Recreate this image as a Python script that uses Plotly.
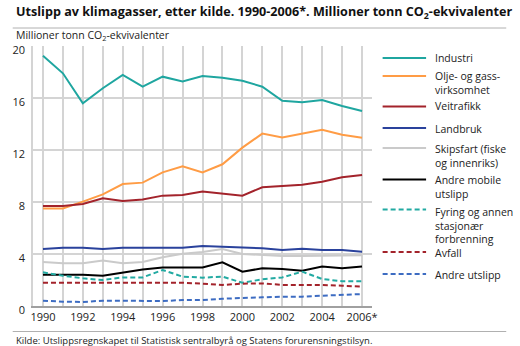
import plotly.graph_objects as go

years = list(range(1990, 2007))
label_years = [1990, 1992, 1994, 1996, 1998, 2000, 2002, 2004, 2006]
tick_text = ["1990", "1992", "1994", "1996", "1998", "2000", "2002", "2004", "2006*"]

industri = [19.25, 17.9, 15.6, 16.75, 17.77, 16.87, 17.64, 17.28, 17.69, 17.56, 17.33, 16.87, 15.79, 15.67, 15.85, 15.38, 15.0]
olje_gass = [7.5, 7.5, 8.03, 8.59, 9.38, 9.49, 10.28, 10.75, 10.28, 10.9, 12.18, 13.26, 12.97, 13.26, 13.56, 13.18, 12.95]
veitrafikk = [7.69, 7.69, 7.85, 8.28, 8.08, 8.2, 8.49, 8.54, 8.8, 8.67, 8.49, 9.13, 9.23, 9.33, 9.56, 9.9, 10.08]
landbruk = [4.38, 4.49, 4.49, 4.38, 4.49, 4.49, 4.49, 4.49, 4.62, 4.56, 4.51, 4.44, 4.31, 4.4, 4.31, 4.31, 4.18]
skipsfart = [3.38, 3.28, 3.28, 3.5, 3.28, 3.38, 3.75, 4.02, 4.15, 4.38, 4.0, 3.9, 3.85, 3.85, 3.85, 3.85, 3.9]
andre_mobile = [2.41, 2.41, 2.41, 2.33, 2.59, 2.8, 2.97, 2.97, 2.97, 3.36, 2.64, 2.9, 2.85, 2.72, 3.03, 2.9, 3.03]
fyring = [2.59, 2.33, 2.13, 2.0, 2.2, 2.2, 2.77, 2.26, 2.18, 2.26, 1.79, 2.05, 2.2, 2.64, 2.08, 1.9, 1.9]
avfall = [1.79, 1.79, 1.79, 1.79, 1.79, 1.79, 1.79, 1.79, 1.72, 1.62, 1.72, 1.74, 1.62, 1.62, 1.62, 1.56, 1.49]
andre_utslipp = [0.41, 0.33, 0.31, 0.41, 0.41, 0.41, 0.38, 0.46, 0.46, 0.56, 0.64, 0.67, 0.72, 0.72, 0.79, 0.85, 0.92]

series = [
    (["Industri"], industri, "#1fa6a0", "solid"),
    (["Olje- og gass-", "virksomhet"], olje_gass, "#ff9c45", "solid"),
    (["Veitrafikk"], veitrafikk, "#a3232b", "solid"),
    (["Landbruk"], landbruk, "#2a429c", "solid"),
    (["Skipsfart (fiske", "og innenriks)"], skipsfart, "#cacaca", "solid"),
    (["Andre mobile", "utslipp"], andre_mobile, "#000000", "solid"),
    (["Fyring og annen", "stasjonær", "forbrenning"], fyring, "#22aaa2", "5px,3px"),
    (["Avfall"], avfall, "#a3232b", "5px,3px"),
    (["Andre utslipp"], andre_utslipp, "#3d6cc2", "5px,3px"),
]

# hand-made legend rows (pixel y of the key line and of the first text line)
legend_rows = [58, 76, 106.5, 128, 148, 179.5, 209.5, 252, 274]
legend_text_first = [58, 76, 106, 128.5, 149, 180, 211.5, 253, 274.5]
LEG_FONT = 10.5
LINE_SP = 1.3 * LEG_FONT

W, H = 520, 346
ML, MR, MT, MB = 21, 148, 46, 40
PW, PH = W - ML - MR, H - MT - MB

def px_x(px):
    return (px - ML) / PW

def px_y(py):
    return (H - MB - py) / PH

FONT = "Open Sans"
TXT = "#222222"
GRID = "#d4d4d4"

fig = go.Figure()
for names, vals, color, dash in series:
    fig.add_trace(go.Scatter(x=years, y=vals, mode="lines", name=" ".join(names),
                             line=dict(color=color, width=2, dash=dash), showlegend=False))

shapes = []
annotations = []
for (names, vals, color, dash), ly, ty in zip(series, legend_rows, legend_text_first):
    shapes.append(dict(type="line", xref="paper", yref="paper",
                       x0=px_x(383), x1=px_x(428), y0=px_y(ly), y1=px_y(ly),
                       line=dict(color=color, width=2, dash=dash)))
    center = ty + (len(names) - 1) * LINE_SP / 2
    annotations.append(dict(text="<br>".join(names), xref="paper", yref="paper",
                            x=px_x(435), y=px_y(center), align="left",
                            xanchor="left", yanchor="middle", showarrow=False,
                            font=dict(family=FONT, size=LEG_FONT, color=TXT)))

# title, separator lines, axis title, source
annotations.append(dict(text="<b>Utslipp av klimagasser, etter kilde. 1990-2006*. Millioner tonn CO<sub>2</sub>-ekvivalenter</b>",
                        xref="paper", yref="paper", x=px_x(1), y=px_y(12.5), xanchor="left", yanchor="middle",
                        showarrow=False, font=dict(family=FONT, size=12.6, color="#111111")))
annotations.append(dict(text="Millioner tonn CO<sub>2</sub>-ekvivalenter",
                        xref="paper", yref="paper", x=px_x(1), y=px_y(35.5), xanchor="left", yanchor="middle",
                        showarrow=False, font=dict(family=FONT, size=10.5, color=TXT)))
annotations.append(dict(text="Kilde: Utslippsregnskapet til Statistisk sentralbyrå og Statens forurensningstilsyn.",
                        xref="paper", yref="paper", x=px_x(1), y=px_y(340), xanchor="left", yanchor="middle",
                        showarrow=False, font=dict(family=FONT, size=9.5, color=TXT)))
shapes.append(dict(type="line", xref="paper", yref="paper", x0=px_x(0), x1=px_x(511),
                   y0=px_y(28), y1=px_y(28), line=dict(color="#b0b0b0", width=1)))
shapes.append(dict(type="line", xref="paper", yref="paper", x0=px_x(0), x1=px_x(511),
                   y0=px_y(331.5), y1=px_y(331.5), line=dict(color="#b0b0b0", width=1)))

fig.update_layout(
    width=W, height=H,
    margin=dict(l=ML, r=MR, t=MT, b=MB, pad=0),
    paper_bgcolor="white", plot_bgcolor="white",
    font=dict(family=FONT, size=11, color=TXT),
    shapes=shapes, annotations=annotations,
    xaxis=dict(range=[1989.5, 2006.5], tickvals=label_years, ticktext=tick_text,
               showgrid=True, gridcolor=GRID, gridwidth=1.5,
               minor=dict(tick0=1990, dtick=1, showgrid=True, gridcolor=GRID, gridwidth=1.5, ticks=""),
               zeroline=False, showline=True, linecolor="#a0a0a0", linewidth=1.5,
               ticks="", tickfont=dict(family=FONT, size=11, color=TXT), fixedrange=True),
    yaxis=dict(range=[0, 20], tickvals=[0, 4, 8, 12, 16, 20],
               showgrid=True, gridcolor=GRID, gridwidth=1.5,
               zeroline=False, showline=True, linecolor=GRID, linewidth=1.5,
               ticks="", ticklabelshift=4, ticklabelstandoff=4,
               tickfont=dict(family=FONT, size=11, color=TXT), fixedrange=True),
)

fig.write_html("out.html")
